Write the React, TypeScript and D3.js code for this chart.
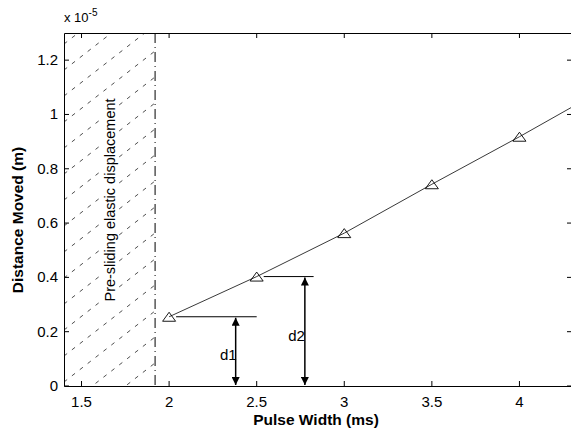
import React, { useEffect, useRef } from 'react';
import * as d3 from 'd3';

const W = 571;
const H = 432;
const MARGIN = { top: 33, right: -1, bottom: 46, left: 64 };

// measured pulse widths (ms) and distance moved (x 1e-5 m)
const pulseWidth = [2, 2.5, 3, 3.5, 4, 4.5];
const distance = [0.255, 0.403, 0.563, 0.743, 0.918, 1.1];
const xTicks = [1.5, 2, 2.5, 3, 3.5, 4];
const yTicks = [0, 0.2, 0.4, 0.6, 0.8, 1, 1.2];
const slideStart = 1.92;

// distance markers: [x of arrow, level, start of guide, end of guide, label x, label y, label]
const markers: [number, number, number, number, number, number, string][] = [
  [2.38, 0.255, 2, 2.5, 2.29, 0.11, 'd1'],
  [2.775, 0.403, 2.5, 2.825, 2.68, 0.18, 'd2'],
];

const FONT = 'Liberation Sans, Arial, Helvetica, sans-serif';

const App: React.FC = () => {
  const svgRef = useRef<SVGSVGElement | null>(null);

  useEffect(() => {
    if (!svgRef.current) return;
    const svg = d3.select(svgRef.current);
    svg.selectAll('*').remove();

    const x0 = MARGIN.left;
    const x1 = W - MARGIN.right;
    const y0 = H - MARGIN.bottom;
    const y1 = MARGIN.top;

    const x = d3.scaleLinear().domain([1.4, 4.3]).range([x0, x1]);
    const y = d3.scaleLinear().domain([0, 1.3]).range([y0, y1]);

    const defs = svg.append('defs');
    defs.append('clipPath').attr('id', 'plot')
      .append('rect').attr('x', x0).attr('y', y1).attr('width', x1 - x0).attr('height', y0 - y1);
    defs.append('clipPath').attr('id', 'hatch')
      .append('rect').attr('x', x0).attr('y', y1).attr('width', x(slideStart) - x0).attr('height', y0 - y1);
    const marker = defs.append('marker')
      .attr('id', 'arrow')
      .attr('viewBox', '0 0 10 10')
      .attr('refX', 10).attr('refY', 5)
      .attr('markerWidth', 10).attr('markerHeight', 8)
      .attr('markerUnits', 'userSpaceOnUse')
      .attr('orient', 'auto-start-reverse');
    marker.append('path').attr('d', 'M0,0 L10,5 L0,10 Z').attr('fill', '#000');

    // hatch lines
    const hatch = svg.append('g').attr('clip-path', 'url(#hatch)');
    const slope = 0.78;
    for (let c = -100; c < 380; c += 26) {
      hatch.append('line')
        .attr('x1', x0).attr('y1', y0 - c)
        .attr('x2', x0 + 500).attr('y2', y0 - c - 500 * slope)
        .attr('stroke', '#222').attr('stroke-width', 0.8)
        .attr('stroke-dasharray', '4,6');
    }

    // dash-dot boundary
    svg.append('line')
      .attr('x1', x(slideStart)).attr('x2', x(slideStart))
      .attr('y1', y1).attr('y2', y0)
      .attr('stroke', '#000').attr('stroke-width', 1)
      .attr('stroke-dasharray', '10,4,1,4');

    // region label on a white box
    const labelG = svg.append('g');
    const bg = labelG.append('rect').attr('fill', '#fff');
    const regionLabel = labelG.append('text')
      .attr('transform', `translate(${x(1.66) + 5},${y(0.685)}) rotate(-90)`)
      .attr('text-anchor', 'middle')
      .attr('font-family', FONT).attr('font-size', 14.5)
      .text('Pre-sliding elastic displacement');
    const node = regionLabel.node() as SVGTextElement;
    const bb = node.getBBox();
    const cx = x(1.66) + 5;
    const cy = y(0.685);
    // bbox is in the text's rotated frame: width runs along y on screen
    bg.attr('x', cx + bb.y - 1).attr('y', cy - bb.x - bb.width - 1)
      .attr('width', bb.height + 2).attr('height', bb.width + 2);

    // data line and markers
    const plot = svg.append('g').attr('clip-path', 'url(#plot)');
    const pts = pulseWidth.map((p, i) => [p, distance[i]] as [number, number]);
    plot.append('path')
      .attr('d', d3.line<[number, number]>().x(d => x(d[0])).y(d => y(d[1]))(pts))
      .attr('fill', 'none').attr('stroke', '#222').attr('stroke-width', 0.9);
    plot.selectAll('path.tri').data(pts).enter().append('path')
      .attr('class', 'tri')
      .attr('d', 'M0,-4.5 L6.5,4.5 L-6.5,4.5 Z')
      .attr('transform', d => `translate(${x(d[0])},${y(d[1])})`)
      .attr('fill', 'none').attr('stroke', '#000').attr('stroke-width', 0.9);

    // d1 / d2 annotations
    markers.forEach(([ax, level, hStart, hEnd, lx, ly, label]) => {
      svg.append('line')
        .attr('x1', x(hStart) + 7).attr('x2', x(hEnd))
        .attr('y1', y(level)).attr('y2', y(level))
        .attr('stroke', '#000').attr('stroke-width', 1);
      svg.append('line')
        .attr('x1', x(ax)).attr('x2', x(ax))
        .attr('y1', y(0) - 1).attr('y2', y(level) + 1)
        .attr('stroke', '#000').attr('stroke-width', 1.5)
        .attr('marker-start', 'url(#arrow)').attr('marker-end', 'url(#arrow)');
      svg.append('text')
        .attr('x', x(lx)).attr('y', y(ly))
        .attr('font-family', FONT).attr('font-size', 15)
        .attr('dominant-baseline', 'middle')
        .text(label);
    });

    // axes box
    const axes = svg.append('g').attr('stroke', '#000').attr('stroke-width', 1).attr('fill', 'none');
    axes.append('path').attr('d', `M${x1},${y1 + 0.5}H${x0 + 0.5}V${y0 + 0.5}H${x1}`);
    xTicks.forEach(t => {
      axes.append('line').attr('x1', x(t)).attr('x2', x(t)).attr('y1', y0).attr('y2', y0 - 5);
      axes.append('line').attr('x1', x(t)).attr('x2', x(t)).attr('y1', y1).attr('y2', y1 + 5);
    });
    yTicks.forEach(t => {
      axes.append('line').attr('x1', x0).attr('x2', x0 + 5).attr('y1', y(t)).attr('y2', y(t));
      axes.append('line').attr('x1', x1 - 5).attr('x2', x1).attr('y1', y(t)).attr('y2', y(t));
    });

    svg.append('g').selectAll('text').data(xTicks).enter().append('text')
      .attr('x', d => x(d)).attr('y', y0 + 21)
      .attr('text-anchor', 'middle')
      .attr('font-family', FONT).attr('font-size', 15)
      .text(d => String(d));
    svg.append('g').selectAll('text').data(yTicks).enter().append('text')
      .attr('x', x0 - 6).attr('y', d => y(d) + 1)
      .attr('text-anchor', 'end').attr('dominant-baseline', 'middle')
      .attr('font-family', FONT).attr('font-size', 15)
      .text(d => String(d));

    const exp = svg.append('text')
      .attr('x', x0).attr('y', 22)
      .attr('font-family', FONT).attr('font-size', 13);
    exp.append('tspan').text('x 10');
    exp.append('tspan').attr('dy', -6).attr('font-size', 10).text('-5');

    svg.append('text')
      .attr('x', 316).attr('y', 425)
      .attr('text-anchor', 'middle')
      .attr('font-family', FONT).attr('font-size', 15.5).attr('font-weight', 'bold')
      .text('Pulse Width (ms)');
    svg.append('text')
      .attr('transform', `translate(23,220) rotate(-90)`)
      .attr('text-anchor', 'middle')
      .attr('font-family', FONT).attr('font-size', 15.5).attr('font-weight', 'bold')
      .text('Distance Moved (m)');
  }, []);

  return (
    <svg
      ref={svgRef}
      width={W}
      height={H}
      style={{ position: 'absolute', left: 0, top: 0, background: '#fff' }}
    />
  );
};

export default App;
